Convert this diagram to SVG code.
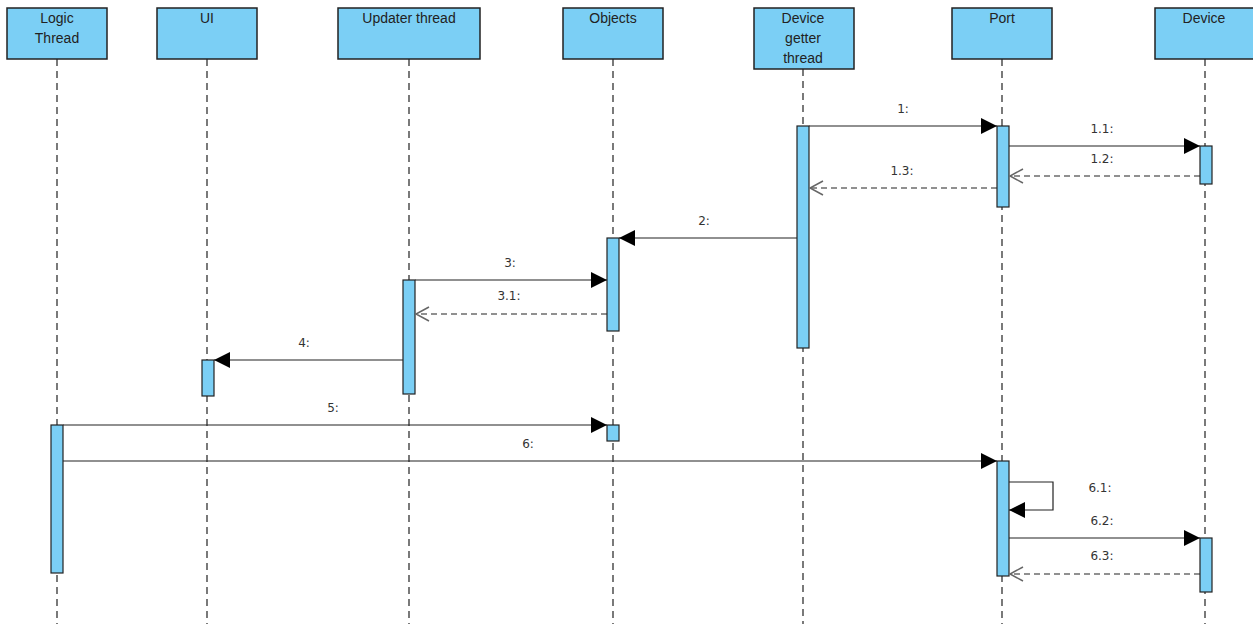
<svg xmlns="http://www.w3.org/2000/svg" width="1253" height="624" viewBox="0 0 1253 624">
<style>
.hdr{fill:#7BCFF5;stroke:#222;stroke-width:1.5}
.ht{font-family:"Liberation Sans",Arial,sans-serif;font-size:14px;fill:#222;text-anchor:middle}
.life{stroke:#222;stroke-width:1.2;stroke-dasharray:7,5;fill:none}
.act{fill:#7BCFF5;stroke:#222;stroke-width:1.2}
.msg{stroke:#222;stroke-width:1.2;fill:none}
.ret{stroke:#222;stroke-width:1.2;stroke-dasharray:6,4;fill:none}
.lbl{font-family:"DejaVu Sans",sans-serif;font-size:12px;fill:#333;text-anchor:middle}
</style>
<defs>
<marker id="fill" markerWidth="18" markerHeight="18" refX="16" refY="8" orient="auto" markerUnits="userSpaceOnUse">
<path d="M0,0 L16,8 L0,16 Z" fill="#000"/>
</marker>
<marker id="open" markerWidth="18" markerHeight="18" refX="14" refY="8" orient="auto" markerUnits="userSpaceOnUse">
<path d="M1,1 L14,8 L1,15" fill="none" stroke="#666" stroke-width="1.5"/>
</marker>
</defs>
<rect width="1253" height="624" fill="#fff"/>
<g id="lifelines">
<line class="life" x1="57" y1="59" x2="57" y2="624"/>
<line class="life" x1="207" y1="59" x2="207" y2="624"/>
<line class="life" x1="409" y1="59" x2="409" y2="624"/>
<line class="life" x1="613" y1="59" x2="613" y2="624"/>
<line class="life" x1="803" y1="69" x2="803" y2="624"/>
<line class="life" x1="1002" y1="59" x2="1002" y2="624"/>
<line class="life" x1="1205" y1="59" x2="1205" y2="624"/>
</g>
<g id="node-logic">
<rect class="hdr" x="7" y="8" width="100" height="51"/>
<text class="ht" x="57" y="23">Logic</text>
<text class="ht" x="57" y="43">Thread</text>
</g>
<g id="node-ui">
<rect class="hdr" x="157" y="8" width="100" height="51"/>
<text class="ht" x="207" y="23">UI</text>
</g>
<g id="node-updater">
<rect class="hdr" x="338" y="8" width="142" height="51"/>
<text class="ht" x="409" y="23">Updater thread</text>
</g>
<g id="node-objects">
<rect class="hdr" x="563" y="8" width="100" height="51"/>
<text class="ht" x="613" y="23">Objects</text>
</g>
<g id="node-getter">
<rect class="hdr" x="754" y="8" width="100" height="61"/>
<text class="ht" x="803" y="23">Device</text>
<text class="ht" x="803" y="43">getter</text>
<text class="ht" x="803" y="63">thread</text>
</g>
<g id="node-port">
<rect class="hdr" x="952" y="8" width="100" height="51"/>
<text class="ht" x="1002" y="23">Port</text>
</g>
<g id="node-device">
<rect class="hdr" x="1155" y="8" width="100" height="51"/>
<text class="ht" x="1204" y="23">Device</text>
</g>
<g id="activations">
<rect class="act" x="797" y="126" width="12" height="222"/>
<rect class="act" x="997" y="126" width="12" height="81"/>
<rect class="act" x="1200" y="146" width="12" height="38"/>
<rect class="act" x="607" y="238" width="12" height="93"/>
<rect class="act" x="403" y="280" width="12" height="114"/>
<rect class="act" x="202" y="360" width="12" height="36"/>
<rect class="act" x="51" y="425" width="12" height="148"/>
<rect class="act" x="607" y="425" width="12" height="16"/>
<rect class="act" x="997" y="461" width="12" height="115"/>
<rect class="act" x="1200" y="538" width="12" height="54"/>
</g>
<g id="connectors">
<line class="msg" x1="809" y1="126" x2="997" y2="126" marker-end="url(#fill)"/>
<text class="lbl" x="903" y="113">1:</text>
<line class="msg" x1="1009" y1="146" x2="1200" y2="146" marker-end="url(#fill)"/>
<text class="lbl" x="1102" y="133">1.1:</text>
<line class="ret" x1="1200" y1="176" x2="1010" y2="176" marker-end="url(#open)"/>
<text class="lbl" x="1102" y="163">1.2:</text>
<line class="ret" x1="997" y1="188" x2="810" y2="188" marker-end="url(#open)"/>
<text class="lbl" x="902" y="175">1.3:</text>
<line class="msg" x1="797" y1="238" x2="619" y2="238" marker-end="url(#fill)"/>
<text class="lbl" x="704" y="225">2:</text>
<line class="msg" x1="415" y1="280" x2="607" y2="280" marker-end="url(#fill)"/>
<text class="lbl" x="510" y="267">3:</text>
<line class="ret" x1="607" y1="314" x2="416" y2="314" marker-end="url(#open)"/>
<text class="lbl" x="509" y="300">3.1:</text>
<line class="msg" x1="403" y1="360" x2="214" y2="360" marker-end="url(#fill)"/>
<text class="lbl" x="304" y="347">4:</text>
<line class="msg" x1="63" y1="425" x2="607" y2="425" marker-end="url(#fill)"/>
<text class="lbl" x="333" y="412">5:</text>
<line class="msg" x1="63" y1="461" x2="997" y2="461" marker-end="url(#fill)"/>
<text class="lbl" x="528" y="448">6:</text>
<polyline class="msg" points="1009,482 1053,482 1053,510 1009,510" marker-end="url(#fill)"/>
<text class="lbl" x="1100" y="492">6.1:</text>
<line class="msg" x1="1009" y1="538" x2="1200" y2="538" marker-end="url(#fill)"/>
<text class="lbl" x="1102" y="525">6.2:</text>
<line class="ret" x1="1200" y1="574" x2="1010" y2="574" marker-end="url(#open)"/>
<text class="lbl" x="1102" y="560">6.3:</text>
</g>
</svg>
